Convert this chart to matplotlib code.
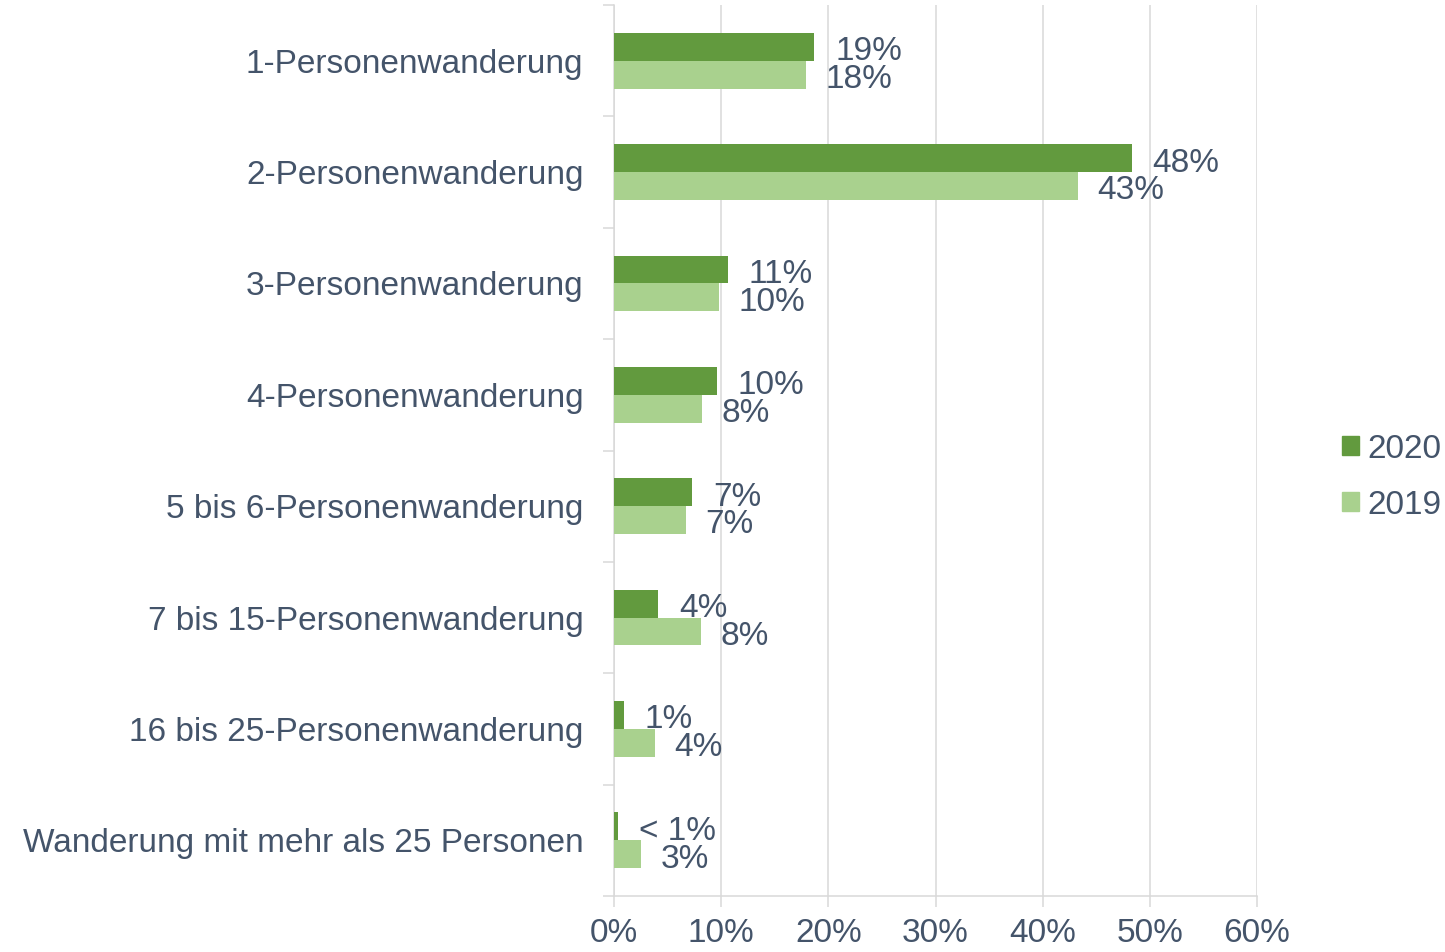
import matplotlib.pyplot as plt
from matplotlib.patches import Patch
import numpy as np

plt.rcParams['font.family'] = ['Liberation Sans', 'DejaVu Sans']

categories = ['1-Personenwanderung', '2-Personenwanderung', '3-Personenwanderung',
              '4-Personenwanderung', '5 bis 6-Personenwanderung', '7 bis 15-Personenwanderung',
              '16 bis 25-Personenwanderung', 'Wanderung mit mehr als 25 Personen']
vals_2020 = [18.7, 48.3, 10.6, 9.6, 7.3, 4.1, 0.9, 0.4]
vals_2019 = [17.9, 43.3, 9.8, 8.2, 6.7, 8.1, 3.8, 2.5]
labels_2020 = ['19%', '48%', '11%', '10%', '7%', '4%', '1%', '< 1%']
labels_2019 = ['18%', '43%', '10%', '8%', '7%', '8%', '4%', '3%']

c2020 = '#629a3e'
c2019 = '#a9d18e'
txt = '#44546a'
grid = '#d9d9d9'

fig = plt.figure(figsize=(14.45, 9.52), dpi=100)
ax = fig.add_axes([614/1445, 1 - 896/952, (1257 - 614)/1445, (896 - 5)/952])

y = np.arange(len(categories))
h = 0.25
ax.barh(y - h/2, vals_2020, height=h, color=c2020, label='2020', zorder=3)
ax.barh(y + h/2, vals_2019, height=h, color=c2019, label='2019', zorder=3)

# data labels, slightly below bar centre like the original
for i in range(len(categories)):
    ax.annotate(labels_2020[i], (vals_2020[i], y[i] - h/2), xytext=(15, -1),
                textcoords='offset points', va='center_baseline', ha='left',
                fontsize=24, color=txt)
    ax.annotate(labels_2019[i], (vals_2019[i], y[i] + h/2), xytext=(14, -1),
                textcoords='offset points', va='center_baseline', ha='left',
                fontsize=24, color=txt)

ax.set_ylim(len(categories) - 0.5, -0.5)
ax.set_xlim(0, 60)
ax.set_xticks(range(0, 61, 10))
ax.set_xticklabels([f'{v}%' for v in range(0, 61, 10)])
ax.set_yticks(y)
ax.set_yticklabels(categories)
ax.set_yticks(np.arange(-0.5, len(categories)), minor=True)

ax.tick_params(axis='y', which='major', length=0, pad=22, labelsize=24, labelcolor=txt)
ax.tick_params(axis='y', which='minor', length=8, width=1.1, color=grid)
ax.tick_params(axis='x', which='major', length=8, width=1.1, color=grid, pad=8,
               labelsize=24, labelcolor=txt)

ax.grid(axis='x', color=grid, linewidth=1.1, zorder=0)
ax.set_axisbelow(True)
for s in ['top', 'right']:
    ax.spines[s].set_visible(False)
for s in ['left', 'bottom']:
    ax.spines[s].set_color(grid)
    ax.spines[s].set_linewidth(1.1)

handles = [Patch(color=c2020, label='2020'), Patch(color=c2019, label='2019')]
fig.legend(handles=handles, loc='center left', bbox_to_anchor=(1329/1445, 1 - 477/952),
           frameon=False, fontsize=24, labelcolor=txt, handlelength=0.5, handleheight=0.5,
           handletextpad=0.25, labelspacing=0.75, borderaxespad=0)

fig.savefig('out.png', dpi=100)
